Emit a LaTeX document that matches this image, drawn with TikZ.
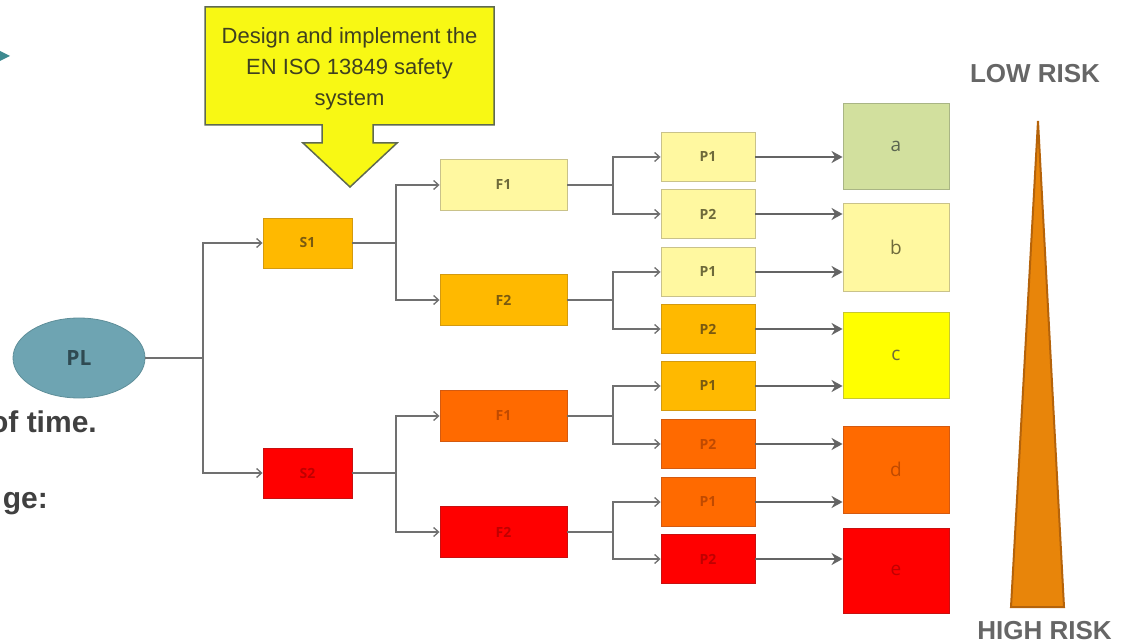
\documentclass[tikz,border=0pt]{standalone}
\usepackage{fontspec}
\setmainfont{Liberation Sans}
\newfontfamily\boxfont{Open Sans}
\usetikzlibrary{arrows.meta,shapes.geometric}
\definecolor{pale}{HTML}{FFF8A0}
\definecolor{paleB}{HTML}{C9C28A}
\definecolor{paleT}{HTML}{6E6A3A}
\definecolor{amber}{HTML}{FFB900}
\definecolor{amberB}{HTML}{D39A10}
\definecolor{amberT}{HTML}{7A5A10}
\definecolor{orng}{HTML}{FF6A00}
\definecolor{orngB}{HTML}{D45A10}
\definecolor{orngT}{HTML}{C04A00}
\definecolor{redf}{HTML}{FF0000}
\definecolor{redB}{HTML}{C81010}
\definecolor{redT}{HTML}{C00000}
\definecolor{grn}{HTML}{D2E09E}
\definecolor{grnB}{HTML}{A9B585}
\definecolor{grnT}{HTML}{5B6650}
\definecolor{yel}{HTML}{FFFF00}
\definecolor{yelB}{HTML}{C8C830}
\definecolor{linegray}{HTML}{707070}
\definecolor{thickgray}{HTML}{646464}
\definecolor{calloutfill}{HTML}{F8F814}
\definecolor{calloutdraw}{HTML}{5F6A50}
\definecolor{callouttext}{HTML}{3F4020}
\definecolor{trifill}{HTML}{E8850A}
\definecolor{tridraw}{HTML}{B5630A}
\definecolor{plfill}{HTML}{6EA4B2}
\definecolor{pldraw}{HTML}{5E8E99}
\definecolor{pltext}{HTML}{2F4A52}
\definecolor{risktext}{HTML}{666666}
\definecolor{sidetext}{HTML}{404040}
\definecolor{tealtip}{HTML}{3D8A90}
\begin{document}
\begin{tikzpicture}[x=1pt,y=-1pt,
  cpale/.style={fill=pale,draw=paleB,text=paleT},
  camber/.style={fill=amber,draw=amberB,text=amberT},
  corange/.style={fill=orng,draw=orngB,text=orngT},
  cred/.style={fill=redf,draw=redB,text=redT},
  cgreen/.style={fill=grn,draw=grnB,text=grnT},
  cyellow/.style={fill=yel,draw=yelB,text=paleT},
  basebox/.style={rectangle,line width=0.9pt,inner sep=0pt,font=\boxfont\bfseries\fontsize{14}{16}\selectfont},
  sbox/.style={basebox,minimum width=89pt,minimum height=50pt},
  fbox/.style={basebox,minimum width=127pt,minimum height=51pt},
  pbox/.style={basebox,minimum width=94pt,minimum height=49pt},
  rbox/.style={basebox,minimum width=106pt,minimum height=86pt,font=\boxfont\fontsize{19}{21}\selectfont},
  plain/.style={draw=linegray,line width=1.3pt},
  thinarrow/.style={plain,-{Straight Barb[length=5pt,width=9pt]}},
  thickarrow/.style={draw=thickgray,line width=2.8pt,-{Stealth[length=11pt,width=12pt,inset=3.5pt]}},
  risk/.style={text=risktext,font=\bfseries\fontsize{26}{28}\selectfont,inner sep=0pt},
  side/.style={text=sidetext,font=\bfseries\fontsize{30}{32}\selectfont,inner sep=0pt}
]
\useasboundingbox (0,0) rectangle (1125,644);
\clip (0,0) rectangle (1125,644);

% cut-off fragments at the left edge
\fill[tealtip] (0,51) -- (10,56) -- (0,61) -- cycle;
\node[side,anchor=base east] (time) at (97,432) {of time.};
\node[side,anchor=base east] (age) at (48,508) {ge:};

% callout
\draw[fill=calloutfill,draw=calloutdraw,line width=1.5pt,line join=miter]
  (205,7) -- (494,7) -- (494,125) -- (373,125) -- (373,143) -- (397,143)
  -- (350,187) -- (303,143) -- (322,143) -- (322,125) -- (205,125) -- cycle;
\node[align=center,text=callouttext,font=\fontsize{22}{31}\selectfont,inner sep=0pt]
  (callout) at (349.5,69) {Design and implement the\\EN ISO 13849 safety\\system};

% PL
\node[ellipse,fill=plfill,draw=pldraw,line width=0.8pt,minimum width=132pt,minimum height=80pt,
  inner sep=0pt,text=pltext,font=\boxfont\bfseries\fontsize{21}{23}\selectfont] (PL) at (79,358) {PL};

% S level
\node[sbox,camber] (S1) at (307.5,243) {S1};
\node[sbox,cred] (S2) at (307.5,473) {S2};

% F level
\node[fbox,cpale] (F1a) at (503.5,185) {F1};
\node[fbox,camber] (F2a) at (503.5,300) {F2};
\node[fbox,corange] (F1b) at (503.5,416) {F1};
\node[fbox,cred] (F2b) at (503.5,532) {F2};

% P level
\node[pbox,cpale] (Pa) at (708,157) {P1};
\node[pbox,cpale] (Pb) at (708,214) {P2};
\node[pbox,cpale] (Pc) at (708,272) {P1};
\node[pbox,camber] (Pd) at (708,329) {P2};
\node[pbox,camber] (Pe) at (708,386) {P1};
\node[pbox,corange] (Pf) at (708,444) {P2};
\node[pbox,corange] (Pg) at (708,502) {P1};
\node[pbox,cred] (Ph) at (708,559) {P2};

% results
\node[rbox,cgreen] (Ra) at (896,146) {a};
\node[rbox,cpale,minimum height=88pt] (Rb) at (896,247) {b};
\node[rbox,cyellow] (Rc) at (896,355) {c};
\node[rbox,corange,minimum height=87pt] (Rd) at (896,469.5) {d};
\node[rbox,cred,minimum height=85pt] (Re) at (896,570.5) {e};

% junctions
\coordinate (j0) at (203,358);
\coordinate (j1) at (396,243);
\coordinate (j2) at (396,473);
\coordinate (j3) at (613,185);
\coordinate (j4) at (613,300);
\coordinate (j5) at (613,416);
\coordinate (j6) at (613,532);

\draw[plain] (PL.east) -- (j0);
\draw[thinarrow] (j0) |- (S1.west);
\draw[thinarrow] (j0) |- (S2.west);

\draw[plain] (S1.east) -- (j1);
\draw[thinarrow] (j1) |- (F1a.west);
\draw[thinarrow] (j1) |- (F2a.west);
\draw[plain] (S2.east) -- (j2);
\draw[thinarrow] (j2) |- (F1b.west);
\draw[thinarrow] (j2) |- (F2b.west);

\draw[plain] (F1a.east) -- (j3);
\draw[thinarrow] (j3) |- (Pa.west);
\draw[thinarrow] (j3) |- (Pb.west);
\draw[plain] (F2a.east) -- (j4);
\draw[thinarrow] (j4) |- (Pc.west);
\draw[thinarrow] (j4) |- (Pd.west);
\draw[plain] (F1b.east) -- (j5);
\draw[thinarrow] (j5) |- (Pe.west);
\draw[thinarrow] (j5) |- (Pf.west);
\draw[plain] (F2b.east) -- (j6);
\draw[thinarrow] (j6) |- (Pg.west);
\draw[thinarrow] (j6) |- (Ph.west);

\draw[thickarrow] (Pa.east) -- (Pa.east -| Ra.west);
\draw[thickarrow] (Pb.east) -- (Pb.east -| Rb.west);
\draw[thickarrow] (Pc.east) -- (Pc.east -| Rb.west);
\draw[thickarrow] (Pd.east) -- (Pd.east -| Rc.west);
\draw[thickarrow] (Pe.east) -- (Pe.east -| Rc.west);
\draw[thickarrow] (Pf.east) -- (Pf.east -| Rd.west);
\draw[thickarrow] (Pg.east) -- (Pg.east -| Rd.west);
\draw[thickarrow] (Ph.east) -- (Ph.east -| Re.west);

% risk scale
\draw[fill=trifill,draw=tridraw,line width=2pt,line join=miter]
  (1038,121) -- (1064,607) -- (1011,607) -- cycle;
\node[risk] (low) at (1035,74) {LOW RISK};
\node[risk] (high) at (1044.5,631) {HIGH RISK};
\end{tikzpicture}
\end{document}
